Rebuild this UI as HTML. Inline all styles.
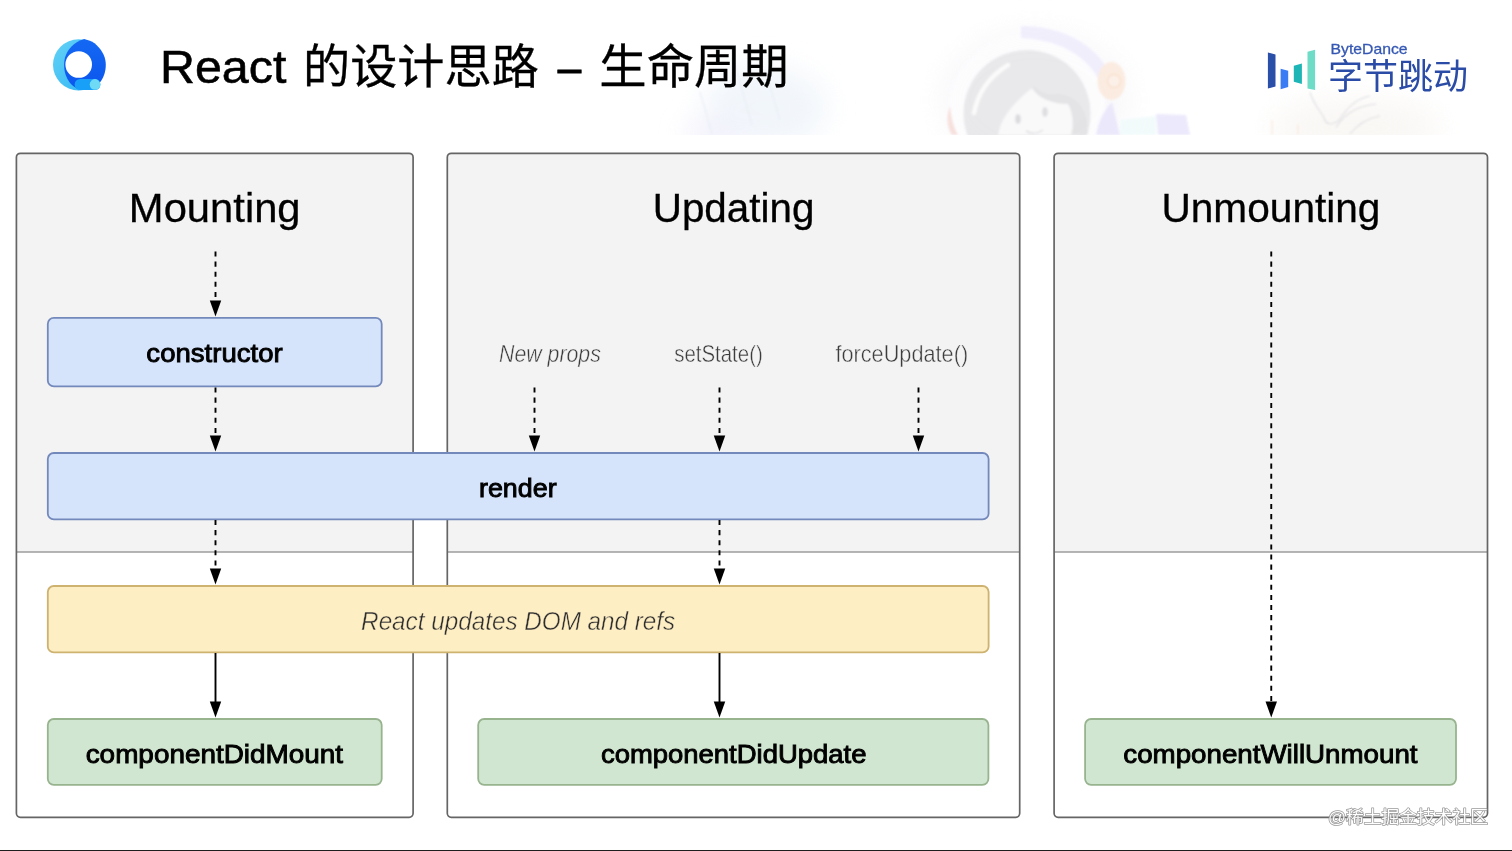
<!DOCTYPE html>
<html lang="zh-CN">
<head>
<meta charset="utf-8">
<title>React 的设计思路 – 生命周期</title>
<style>
html,body{margin:0;padding:0;background:#fff;}
body{width:1512px;height:851px;overflow:hidden;position:relative;font-family:"Liberation Sans","Noto Sans CJK SC",sans-serif;}
svg{position:absolute;left:0;top:0;display:block;will-change:transform;}
text{font-family:"Liberation Sans","Noto Sans CJK SC",sans-serif;}
.pfill{fill:#f3f3f3;}
.pstroke{fill:none;stroke:#656565;stroke-width:1.7;}
.white{fill:#ffffff;}
.sep{stroke:#9d9d9d;stroke-width:1.5;}
.blue{fill:#d5e3fb;stroke:#7489bb;stroke-width:1.8;}
.yellow{fill:#feeec4;stroke:#cdb270;stroke-width:1.8;}
.green{fill:#d0e6d0;stroke:#97b48f;stroke-width:1.8;}
.dash{stroke:#000;stroke-width:1.9;stroke-dasharray:5.05 5.05;fill:none;}
.solid{stroke:#000;stroke-width:1.9;fill:none;}
.head{fill:#000;}
.h1{font-size:41px;fill:#000;stroke:#000;stroke-width:0.3px;}
.b{font-size:26px;fill:#000;stroke:#000;stroke-width:0.9px;}
.i{font-size:26px;font-style:italic;fill:#2e2e2e;stroke:#feeec4;stroke-width:0.45px;}
.s{font-size:24px;fill:#3c3c3c;stroke:#f3f3f3;stroke-width:0.45px;}
.it{font-style:italic;}
.title{font-size:47px;fill:#000;stroke:#000;stroke-width:0.3px;}
</style>
</head>
<body>
<svg width="1512" height="851" viewBox="0 0 1512 851">
  <!-- header art (faint) -->
  <defs>
    <clipPath id="artclip"><rect x="640" y="0" width="872" height="135"/></clipPath>
    <filter id="blur2" x="-20%" y="-20%" width="140%" height="140%"><feGaussianBlur stdDeviation="1.2"/></filter>
    <filter id="blur12" x="-50%" y="-50%" width="200%" height="200%"><feGaussianBlur stdDeviation="14"/></filter>
    <linearGradient id="lgcyan" x1="0" y1="0" x2="1" y2="1">
      <stop offset="0" stop-color="#63d2f6"/><stop offset="1" stop-color="#2fb4f3"/>
    </linearGradient>
    <linearGradient id="lgblue" x1="0" y1="0" x2="0" y2="1">
      <stop offset="0" stop-color="#1468f3"/><stop offset="1" stop-color="#0c55ee"/>
    </linearGradient>
  </defs>
  <g id="art" clip-path="url(#artclip)">
    <g filter="url(#blur12)" opacity="0.75">
      <ellipse cx="765" cy="108" rx="62" ry="42" fill="#edf3f9"/>
      <ellipse cx="715" cy="135" rx="30" ry="14" fill="#eceafa"/>
      <ellipse cx="1035" cy="100" rx="95" ry="70" fill="#f6f6f9"/>
      <ellipse cx="1355" cy="128" rx="85" ry="30" fill="#f8f5f2"/>
    </g>
    <g filter="url(#blur2)" opacity="0.85">
      <path d="M733 58 L752 125 M700 92 L712 134 M765 70 L780 120" fill="none" stroke="#e6ecf4" stroke-width="1.2"/>
      <circle cx="1027" cy="113" r="79" fill="#fdfdfe"/>
      <path d="M1021 26 C1062 26 1094 44 1108 70 L1098 78 C1084 54 1058 40 1021 38 Z" fill="#efecfc"/>
      <circle cx="1027" cy="113.5" r="63.5" fill="#e6e6e8"/>
      <path d="M1010 134 C1012 112 1024 96 1034 86 C1040 92 1046 96 1058 94 C1078 96 1088 110 1088 134 Z" fill="#e0e0e2"/>
      <path d="M974 113 C978 92 990 76 1008 65" fill="none" stroke="#fbfbfb" stroke-width="4.5" stroke-linecap="round"/>
      <path d="M998 135 C1001 118 1012 104 1032 88 C1038 98 1052 104 1068 104 C1073 112 1074 126 1071 135 Z" fill="#f9f9fa"/>
      <ellipse cx="1018" cy="119" rx="2.8" ry="4.8" fill="#d6d6d9"/>
      <ellipse cx="1045" cy="112" rx="2.8" ry="4.8" fill="#dadadd"/>
      <path d="M1026 131 Q1034 136 1043 130" fill="none" stroke="#dcdcdf" stroke-width="1.5"/>
      <ellipse cx="1111.5" cy="81" rx="14" ry="19" fill="#fbe9dc"/>
      <circle cx="1114" cy="81" r="6.5" fill="#fcefe5" stroke="#f7dcc8" stroke-width="1.5"/>
      <path d="M950 106 C946 116 947 128 952 135 L958 135 C953 126 951 116 950 106 Z" fill="#f6dcd8"/>
      <path d="M1096 135 C1098 122 1104 110 1112 102 L1120 135 Z" fill="#e9e5fb"/>
      <path d="M1120 120 L1156 116 L1156 135 L1120 135 Z" fill="#f0fafa"/>
      <path d="M1156 114 L1186 115 L1190 135 L1158 135 Z" fill="#e8e6fb"/>
      <path d="M1310 92 C1313 104 1320 110 1324 118 C1326 126 1336 126 1342 116 C1350 104 1360 98 1370 96 M1336 128 C1342 116 1356 106 1376 104 M1350 134 C1358 124 1368 118 1380 116" fill="none" stroke="#dadade" stroke-width="1.1"/>
      <path d="M1272 120 L1272 135 M1298 124 L1298 135" fill="none" stroke="#faeee4" stroke-width="2"/>
    </g>
  </g>

  <!-- left logo -->
  <g id="logo">
    <circle cx="78.6" cy="64.8" r="25.6" fill="url(#lgcyan)"/>
    <path d="M84.2 39.1 C90 40.5 94 42.5 97 45.5 C103 51.5 105.8 58 105.8 64.6 C105.8 79 97 89.9 84.6 89.9 C72.6 89.9 64.1 79 64.1 64.8 C64.1 58 66.5 51.5 71.5 46.5 C75 43 79 40.5 84.2 39.1 Z" fill="url(#lgblue)"/>
    <circle cx="78.7" cy="64.5" r="13.3" fill="#ffffff"/>
    <rect x="74.6" y="79" width="25.8" height="11" rx="5.5" fill="#189ff8"/>
    <circle cx="95" cy="84.4" r="5.3" fill="#6edaf6"/>
  </g>

  <!-- ByteDance logo -->
  <g id="bytedance">
    <path d="M1267.9 52.4 L1275.5 54.6 L1275.5 86.4 L1267.9 88.6 Z" fill="#2a4fa9"/>
    <path d="M1280.6 68.8 L1288.2 70.8 L1288.2 87.0 L1280.6 89.3 Z" fill="#3a7cf4"/>
    <path d="M1293.8 65.7 L1301.9 63.4 L1301.9 84.0 L1293.8 81.7 Z" fill="#1eb5b6"/>
    <path d="M1307.5 51.8 L1315.1 49.8 L1315.1 90.0 L1307.5 88.4 Z" fill="#6fdcc8"/>
    <text x="1330.6" y="54" textLength="77" lengthAdjust="spacingAndGlyphs" style="font-size:15px;fill:#3558b3;stroke:#3558b3;stroke-width:0.3px;">ByteDance</text>
    <text x="1328" y="88.5" textLength="140" lengthAdjust="spacingAndGlyphs" style="font-size:35px;fill:#2b4ca6;">字节跳动</text>
  </g>

  <!-- panels -->
  <g id="panels">
    <rect class="pfill" x="16.4" y="153.3" width="396.7" height="664" rx="4"/>
    <path class="white" d="M16.4 552 H413.1 V812.8 Q413.1 817.3 408.6 817.3 H20.9 Q16.4 817.3 16.4 812.8 Z"/>
    <line class="sep" x1="16.4" y1="552" x2="413.1" y2="552"/>
    <rect class="pstroke" x="16.4" y="153.3" width="396.7" height="664" rx="4"/>

    <rect class="pfill" x="447.3" y="153.3" width="572.4" height="664" rx="4"/>
    <path class="white" d="M447.3 552 H1019.7 V812.8 Q1019.7 817.3 1015.2 817.3 H451.8 Q447.3 817.3 447.3 812.8 Z"/>
    <line class="sep" x1="447.3" y1="552" x2="1019.7" y2="552"/>
    <rect class="pstroke" x="447.3" y="153.3" width="572.4" height="664" rx="4"/>

    <rect class="pfill" x="1054.1" y="153.3" width="433.4" height="664" rx="4"/>
    <path class="white" d="M1054.1 552 H1487.5 V812.8 Q1487.5 817.3 1483 817.3 H1058.6 Q1054.1 817.3 1054.1 812.8 Z"/>
    <line class="sep" x1="1054.1" y1="552" x2="1487.5" y2="552"/>
    <rect class="pstroke" x="1054.1" y="153.3" width="433.4" height="664" rx="4"/>
  </g>

  <!-- boxes -->
  <g id="boxes">
    <rect class="blue" x="47.8" y="317.9" width="333.9" height="68.5" rx="6"/>
    <rect class="blue" x="47.8" y="453" width="940.8" height="66.4" rx="6"/>
    <rect class="yellow" x="47.8" y="586" width="940.8" height="66.4" rx="6"/>
    <rect class="green" x="47.8" y="719" width="333.9" height="65.8" rx="6"/>
    <rect class="green" x="478.2" y="719" width="510.2" height="65.8" rx="6"/>
    <rect class="green" x="1085.1" y="719" width="370.9" height="65.8" rx="6"/>
  </g>

  <!-- arrows -->
  <g id="arrows">
    <line class="dash" x1="215.5" y1="251.5" x2="215.5" y2="302"/>
    <path class="head" d="M209.8 300.5 L221.2 300.5 L215.5 316.5 Z"/>
    <line class="dash" x1="215.5" y1="387.5" x2="215.5" y2="437"/>
    <path class="head" d="M209.8 435.5 L221.2 435.5 L215.5 451.5 Z"/>
    <line class="dash" x1="215.5" y1="520" x2="215.5" y2="570"/>
    <path class="head" d="M209.8 568.5 L221.2 568.5 L215.5 584.5 Z"/>
    <line class="solid" x1="215.5" y1="653" x2="215.5" y2="703"/>
    <path class="head" d="M209.8 701.5 L221.2 701.5 L215.5 717.5 Z"/>

    <line class="dash" x1="534.5" y1="387.5" x2="534.5" y2="437"/>
    <path class="head" d="M528.8 435.5 L540.2 435.5 L534.5 451.5 Z"/>
    <line class="dash" x1="719.5" y1="387.5" x2="719.5" y2="437"/>
    <path class="head" d="M713.75 435.5 L725.25 435.5 L719.5 451.5 Z"/>
    <line class="dash" x1="918.5" y1="387.5" x2="918.5" y2="437"/>
    <path class="head" d="M912.8 435.5 L924.2 435.5 L918.5 451.5 Z"/>

    <line class="dash" x1="719.5" y1="520" x2="719.5" y2="570"/>
    <path class="head" d="M713.75 568.5 L725.25 568.5 L719.5 584.5 Z"/>
    <line class="solid" x1="719.5" y1="653" x2="719.5" y2="703"/>
    <path class="head" d="M713.75 701.5 L725.25 701.5 L719.5 717.5 Z"/>

    <line class="dash" x1="1271.25" y1="251.5" x2="1271.25" y2="703"/>
    <path class="head" d="M1265.5 701.5 L1277 701.5 L1271.25 717.5 Z"/>
  </g>

  <!-- labels -->
  <g id="labels">
    <text class="h1" x="128.89" y="222.40" textLength="171.71" lengthAdjust="spacingAndGlyphs">Mounting</text>
    <text class="h1" x="652.72" y="222.40" textLength="161.64" lengthAdjust="spacingAndGlyphs">Updating</text>
    <text class="h1" x="1161.46" y="222.40" textLength="219.00" lengthAdjust="spacingAndGlyphs">Unmounting</text>
    <text class="b" x="146.39" y="362.00" textLength="136.30" lengthAdjust="spacingAndGlyphs">constructor</text>
    <text class="b" x="478.98" y="497.00" textLength="77.67" lengthAdjust="spacingAndGlyphs">render</text>
    <text class="b" x="85.68" y="763.00" textLength="257.43" lengthAdjust="spacingAndGlyphs">componentDidMount</text>
    <text class="b" x="600.94" y="763.00" textLength="265.50" lengthAdjust="spacingAndGlyphs">componentDidUpdate</text>
    <text class="b" x="1123.29" y="763.00" textLength="294.25" lengthAdjust="spacingAndGlyphs">componentWillUnmount</text>
    <text class="i" x="361.12" y="630.00" textLength="314.11" lengthAdjust="spacingAndGlyphs">React updates DOM and refs</text>
    <text class="s it" x="499.06" y="362.00" textLength="101.79" lengthAdjust="spacingAndGlyphs">New props</text>
    <text class="s" x="674.18" y="362.00" textLength="88.57" lengthAdjust="spacingAndGlyphs">setState()</text>
    <text class="s" x="835.44" y="362.00" textLength="132.72" lengthAdjust="spacingAndGlyphs">forceUpdate()</text>
  </g>

  <!-- title -->
  <text id="title" class="title" y="82.8"><tspan x="159.98" textLength="126.40" lengthAdjust="spacingAndGlyphs" style="stroke-width:0.55px">React</tspan> <tspan x="303.09" textLength="235.70" lengthAdjust="spacingAndGlyphs">的设计思路</tspan> <tspan x="557.80" textLength="23.47" lengthAdjust="spacingAndGlyphs" style="stroke-width:0.9px">–</tspan> <tspan x="599.35" textLength="189.33" lengthAdjust="spacingAndGlyphs">生命周期</tspan></text>

  <!-- watermark -->
  <g id="wm">
    <text x="1328" y="823.2" textLength="160" lengthAdjust="spacingAndGlyphs" style="font-size:16.6px;fill:#ffffff;stroke:#8c8c8c;stroke-width:1.5px;paint-order:stroke fill;stroke-linejoin:round;opacity:.88">@稀土掘金技术社区</text>
  </g>

  <!-- bottom bar -->
  <rect x="0" y="850" width="1512" height="1" fill="#1e1e1e"/>
</svg>
</body>
</html>
